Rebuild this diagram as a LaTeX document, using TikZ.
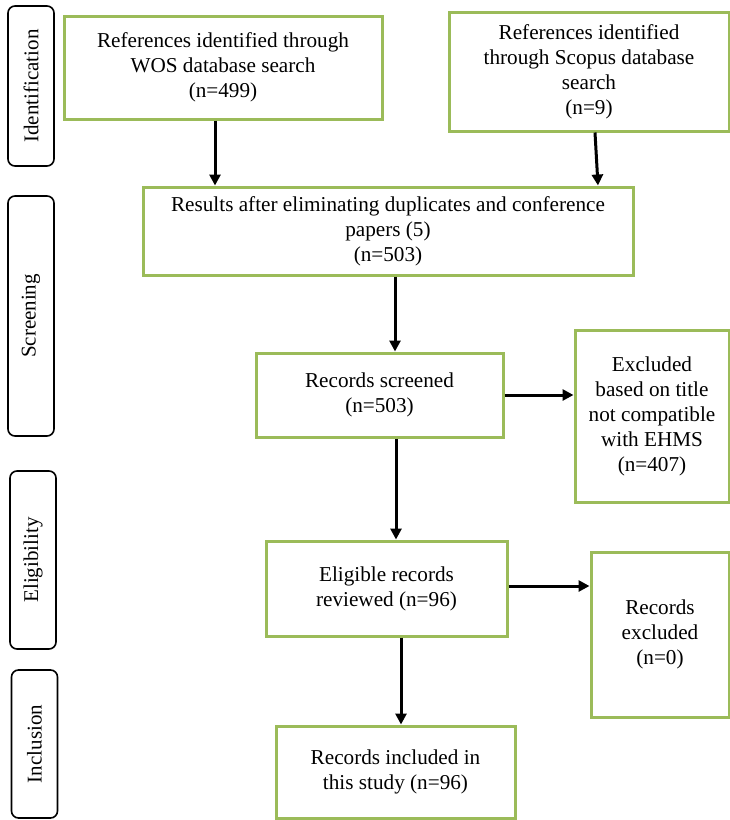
\documentclass[tikz,border=0pt]{standalone}
\usepackage{fontspec}
\setmainfont{Liberation Serif}
\usetikzlibrary{arrows.meta}
\definecolor{boxgreen}{RGB}{155,187,89}
\begin{document}
\begin{tikzpicture}[x=1pt,y=-1pt,
  gbox/.style={draw=boxgreen, line width=3pt, align=center, inner sep=0pt,
    font=\fontsize{21.2}{25}\selectfont},
  sidebox/.style={draw=black, line width=1.6pt, rounded corners=7pt, inner sep=0pt,
    rotate=90, minimum height=46pt, font=\fontsize{21}{25}\selectfont},
  arr/.style={line width=3pt, -{Triangle[length=11pt,width=11pt]}}]
\useasboundingbox (0,0) rectangle (730,820);
% side labels
\node[sidebox, minimum width=160pt] (ident) at (31,86) {Identification};
\node[sidebox, minimum width=240pt] (screen) at (31,316) {Screening};
\node[sidebox, minimum width=178pt] (elig) at (33,560) {Eligibility};
\node[sidebox, minimum width=148pt] (incl) at (34.5,744) {Inclusion};
% boxes
\node[gbox, minimum width=318pt, minimum height=103pt] (wos) at (223,67.5)
  {References identified through\\WOS database search\\(n=499)};
\node[gbox, minimum width=280pt, minimum height=119pt] (scopus) at (589,71.5)
  {References identified\\through Scopus database\\search\\(n=9)};
\node[gbox, minimum width=490pt, minimum height=88pt] (results) at (388,231)
  {Results after eliminating duplicates and conference\\papers (5)\\(n=503)};
\node[gbox, minimum width=247pt, minimum height=84pt] (screened) at (379.5,395)
  {Records screened\\(n=503)};
\node[gbox, minimum width=154pt, minimum height=172pt] (excl1) at (652,416)
  {Excluded\\based on title\\not compatible\\with EHMS\\(n=407)};
\node[gbox, minimum width=241pt, minimum height=95pt] (eligible) at (386.5,588.5)
  {Eligible records\\reviewed (n=96)};
\node[gbox, minimum width=138pt, minimum height=165pt] (excl2) at (660,634.5)
  {Records\\excluded\\(n=0)};
\node[gbox, minimum width=239pt, minimum height=92pt] (included) at (395.5,772)
  {Records included in\\this study (n=96)};
% arrows
\draw[arr] (wos.south -| 215,0) -- (results.north -| 215,0);
\draw[arr] (scopus.south -| 595,0) -- (results.north -| 598,0);
\draw[arr] (results.south -| 395,0) -- (screened.north -| 395,0);
\draw[arr] (screened.east |- 0,395) -- (excl1.west |- 0,395);
\draw[arr] (screened.south -| 396,0) -- (eligible.north -| 396,0);
\draw[arr] (eligible.east |- 0,586) -- (excl2.west |- 0,586);
\draw[arr] (eligible.south -| 401,0) -- (included.north -| 401,0);
\end{tikzpicture}
\end{document}
